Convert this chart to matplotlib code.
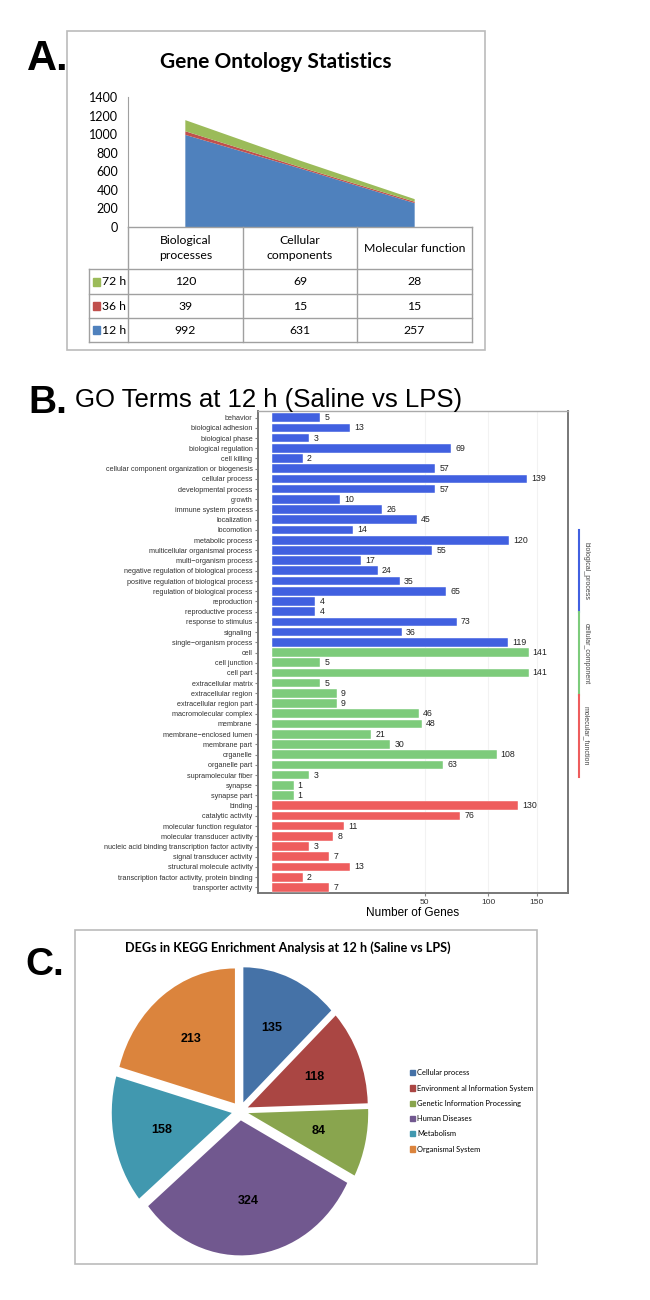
import numpy as np
import matplotlib.pyplot as plt
from matplotlib.patches import Rectangle, Patch

# ---- data ----
go_cats = ['Biological\nprocesses', 'Cellular\ncomponents', 'Molecular function']
h12 = [992, 631, 257]
h36 = [39, 15, 15]
h72 = [120, 69, 28]

bp_terms = ['behavior', 'biological adhesion', 'biological phase', 'biological regulation',
            'cell killing', 'cellular component organization or biogenesis', 'cellular process',
            'developmental process', 'growth', 'immune system process', 'localization',
            'locomotion', 'metabolic process', 'multicellular organismal process',
            'multi\u2212organism process', 'negative regulation of biological process',
            'positive regulation of biological process', 'regulation of biological process',
            'reproduction', 'reproductive process', 'response to stimulus', 'signaling',
            'single\u2212organism process']
bp_vals = [5, 13, 3, 69, 2, 57, 139, 57, 10, 26, 45, 14, 120, 55, 17, 24, 35, 65, 4, 4, 73, 36, 119]
cc_terms = ['cell', 'cell junction', 'cell part', 'extracellular matrix', 'extracellular region',
            'extracellular region part', 'macromolecular complex', 'membrane',
            'membrane\u2212enclosed lumen', 'membrane part', 'organelle', 'organelle part',
            'supramolecular fiber', 'synapse', 'synapse part']
cc_vals = [141, 5, 141, 5, 9, 9, 46, 48, 21, 30, 108, 63, 3, 1, 1]
mf_terms = ['binding', 'catalytic activity', 'molecular function regulator',
            'molecular transducer activity', 'nucleic acid binding transcription factor activity',
            'signal transducer activity', 'structural molecule activity',
            'transcription factor activity, protein binding', 'transporter activity']
mf_vals = [130, 76, 11, 8, 3, 7, 13, 2, 7]

kegg_labels = ['Cellular process', 'Environment al Information System',
               'Genetic Information Processing', 'Human Diseases', 'Metabolism',
               'Organismal System']
kegg_vals = [135, 118, 84, 324, 158, 213]

W, H = 650, 1300
c_green, c_red, c_blue = '#9BBB59', '#C0504D', '#4F81BD'
b_blue, b_green, b_red = '#4160E0', '#7DCB7B', '#EE5D5D'
pie_cols = ['#4572A7', '#AA4643', '#89A54E', '#71588F', '#4198AF', '#DB843D']


def box(l, t, r, b):
    return [l / W, 1 - b / H, (r - l) / W, (b - t) / H]


fig = plt.figure(figsize=(6.5, 13), dpi=100)
ov = fig.add_axes([0, 0, 1, 1], zorder=5)
ov.set_xlim(0, W)
ov.set_ylim(H, 0)
ov.axis('off')
ov.patch.set_alpha(0)

# ---- panel A ----
ov.add_patch(Rectangle((67, 31), 418, 319, fill=False, ec='#BBBBBB', lw=1.2))
ov.text(27, 70, 'A.', fontsize=30, fontweight='bold', family='Liberation Sans', va='baseline')
ov.text(276, 62, 'Gene Ontology Statistics', fontsize=15, fontweight='bold', family='Lato',
        ha='center', va='center')

axA = fig.add_axes(box(128, 97, 472, 227))
x = np.arange(len(h12))
axA.stackplot(x, h12, h36, h72, colors=[c_blue, c_red, c_green])
axA.set_xlim(-0.5, 2.5)
axA.set_ylim(0, 1400)
axA.set_yticks(range(0, 1401, 200))
axA.set_xticks([])
for s in ['top', 'right', 'bottom']:
    axA.spines[s].set_visible(False)
axA.spines['left'].set_color('#A0A0A0')
axA.tick_params(axis='y', length=0, labelsize=9, pad=7)
for t in axA.get_yticklabels():
    t.set_family('Lato')

# table
cols = [128, 243, 357, 472]
rows = [269, 294, 318, 342]
lc = '#A0A0A0'
fs = 8.8
ov.plot([128, 472], [227, 227], color=lc, lw=1)
for y in rows:
    ov.plot([89, 472], [y, y], color=lc, lw=1)
ov.plot([89, 89], [269, 342], color=lc, lw=1)
for xc in cols:
    ov.plot([xc, xc], [227, 342], color=lc, lw=1)
for i, name in enumerate(go_cats):
    ov.text((cols[i] + cols[i + 1]) / 2, 248, name, ha='center', va='center', fontsize=fs,
            family='Lato', linespacing=1.55)
series = [('72 h', h72, c_green), ('36 h', h36, c_red), ('12 h', h12, c_blue)]
for r, (lab, vals, col) in enumerate(series):
    yc = (rows[r] + rows[r + 1]) / 2
    ov.add_patch(Rectangle((93, yc - 4), 7, 8, color=col))
    ov.text(102, yc, lab, va='center', fontsize=fs, family='Lato')
    for i, v in enumerate(vals):
        ov.text((cols[i] + cols[i + 1]) / 2, yc, str(v), ha='center', va='center',
                fontsize=fs, family='Lato')

# ---- panel B ----
ov.text(28, 413, 'B.', fontsize=28, fontweight='bold', family='Liberation Sans', va='baseline')
ov.text(269, 400, 'GO Terms at 12 h (Saline vs LPS)', fontsize=18.5, family='Liberation Sans',
        ha='center', va='center')

terms = bp_terms + cc_terms + mf_terms
vals = bp_vals + cc_vals + mf_vals
colors = [b_blue] * len(bp_vals) + [b_green] * len(cc_vals) + [b_red] * len(mf_vals)
axB = fig.add_axes(box(258, 411, 568, 893))


def fwd(v):
    return np.sign(v) * np.sqrt(np.abs(v))


def inv(v):
    return np.sign(v) * v ** 2


axB.set_xscale('function', functions=(fwd, inv))
ypos = np.arange(len(terms))
axB.barh(ypos, vals, height=0.85, color=colors, edgecolor='white', linewidth=0.3, zorder=3)
for yv, v in zip(ypos, vals):
    axB.annotate(str(v), (v, yv), xytext=(3, 0), textcoords='offset points', va='center',
                 fontsize=6.3, color='#222222', family='Liberation Sans')
axB.set_xlim(-0.42, 187.7)
axB.set_ylim(len(terms) - 0.45, -0.65)
axB.set_yticks(ypos)
axB.set_yticklabels(terms, fontsize=5.2, color='#333333', family='Liberation Sans')
axB.set_xticks([50, 100, 150])
axB.set_xticklabels(['50', '100', '150'], fontsize=6, color='#333333', family='Liberation Sans')
axB.xaxis.set_minor_locator(plt.NullLocator())
axB.tick_params(length=2, color='#888888', pad=2)
axB.set_xlabel('Number of Genes', fontsize=8.5, family='Liberation Sans', labelpad=1)
axB.grid(axis='x', color='#F2F2F2', lw=0.8, zorder=0)
for s in axB.spines.values():
    s.set_color('#777777')
    s.set_linewidth(1.4)
axB.spines['top'].set_color('#AAAAAA')
axB.spines['top'].set_linewidth(1)

strip = [(530, 612, b_blue, 'biological_process'),
         (612, 695, b_green, 'cellular_component'),
         (695, 777, b_red, 'molecular_function')]
for y0, y1, col, lab in strip:
    ov.plot([579, 579], [y0, y1], color=col, lw=1.5)
    ov.text(586, (y0 + y1) / 2, lab, rotation=-90, ha='center', va='center', fontsize=5,
            color='#444444', family='Liberation Sans')

# ---- panel C ----
ov.add_patch(Rectangle((75, 930), 462, 334, fill=False, ec='#BBBBBB', lw=1.2))
ov.text(25, 975, 'C.', fontsize=28, fontweight='bold', family='Liberation Sans', va='baseline')
ov.text(288, 948, 'DEGs in KEGG Enrichment Analysis at 12 h (Saline vs LPS)', fontsize=9.1,
        fontweight='bold', family='Lato', ha='center', va='center')

# the pie in the reference is stretched vertically
rx, ry = 120, 135
axC = fig.add_axes(box(240 - 1.2 * rx, 1111 - 1.2 * ry, 240 + 1.2 * rx, 1111 + 1.2 * ry))
total = sum(kegg_vals)
wedges, _, autotexts = axC.pie(kegg_vals, colors=pie_cols, startangle=90, counterclock=False,
                               explode=[0.07] * len(kegg_vals), radius=1,
                               autopct=lambda p: '%d' % round(p * total / 100),
                               pctdistance=0.6, wedgeprops=dict(linewidth=0))
for t in autotexts:
    t.set_fontsize(9)
    t.set_fontweight('bold')
    t.set_family('Liberation Sans')
axC.set_aspect('auto')
axC.set_xlim(-1.2, 1.2)
axC.set_ylim(-1.2, 1.2)

handles = [Patch(color=c) for c in pie_cols]
leg = fig.legend(handles, kegg_labels, loc='center left', bbox_to_anchor=(403 / W, 1 - 1111 / H),
                 frameon=False, handlelength=0.7, handleheight=0.7,
                 handletextpad=0.3, labelspacing=1.1, prop={'family': 'Lato', 'size': 5.4})

fig.savefig('out.png', dpi=100)
